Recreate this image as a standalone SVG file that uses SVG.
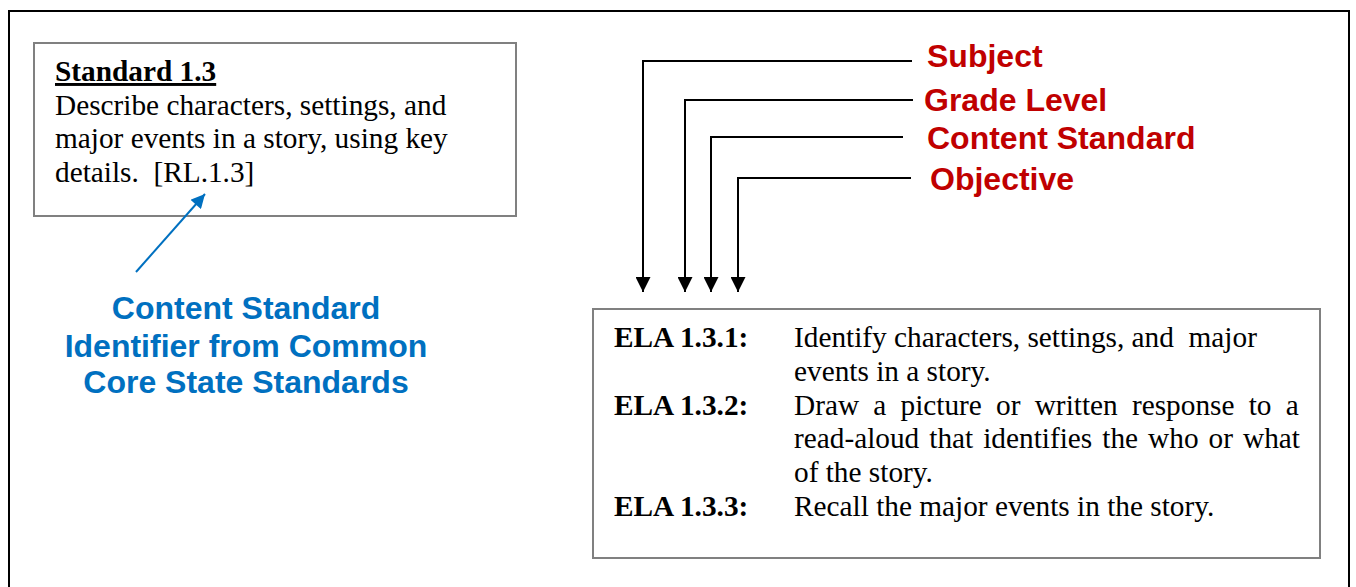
<svg xmlns="http://www.w3.org/2000/svg" width="1356" height="587" viewBox="0 0 1356 587">
<style>
.serif{font-family:"Liberation Serif","Times New Roman",serif;font-size:29.3px;fill:#000;white-space:pre}
.b{font-weight:bold}
.red{font-family:"Liberation Sans",Arial,sans-serif;font-weight:bold;font-size:32px;fill:#C00000}
.blue{font-family:"Liberation Sans",Arial,sans-serif;font-weight:bold;font-size:32px;fill:#0070C0;text-anchor:middle}
.box{fill:#fff;stroke:#808080;stroke-width:2}
.conn{fill:none;stroke:#000;stroke-width:2}
</style>
<defs>
<marker id="ah" viewBox="0 0 10 10" refX="10" refY="5" markerWidth="15" markerHeight="15" markerUnits="userSpaceOnUse" orient="auto">
<path d="M0,0 L10,5 L0,10 z" fill="#000"/>
</marker>
<marker id="ahb" viewBox="0 0 10 10" refX="10" refY="5" markerWidth="15" markerHeight="14" markerUnits="userSpaceOnUse" orient="auto">
<path d="M0,0 L10,5 L0,10 z" fill="#0070C0"/>
</marker>
</defs>
<rect x="0" y="0" width="1356" height="587" fill="#fff"/>
<rect id="frame" x="9" y="11" width="1340" height="600" fill="none" stroke="#000" stroke-width="2"/>

<g id="standard-box">
<rect class="box" x="34" y="43" width="482" height="173"/>
<text class="serif b" x="55" y="81" text-decoration="underline">Standard 1.3</text>
<text class="serif" x="55" y="115">Describe characters, settings, and</text>
<text class="serif" x="55" y="148">major events in a story, using key</text>
<text class="serif" x="55" y="182">details.  [RL.1.3]</text>
</g>

<g id="identifier-label">
<text class="blue" x="246" y="319">Content Standard</text>
<text class="blue" x="246" y="357">Identifier from Common</text>
<text class="blue" x="246" y="393">Core State Standards</text>
</g>

<g id="label-subject"><text class="red" x="927" y="67">Subject</text></g>
<g id="label-grade"><text class="red" x="924" y="111">Grade Level</text></g>
<g id="label-content"><text class="red" x="927" y="149">Content Standard</text></g>
<g id="label-objective"><text class="red" x="930" y="190">Objective</text></g>

<g id="objectives-box">
<rect class="box" x="593" y="309" width="727" height="249"/>
<text class="serif b" x="614" y="347">ELA 1.3.1:</text>
<text class="serif" x="794" y="347">Identify characters, settings, and  major</text>
<text class="serif" x="794" y="381">events in a story.</text>
<text class="serif b" x="614" y="415">ELA 1.3.2:</text>
<text class="serif" x="794" y="415" word-spacing="6.9">Draw a picture or written response to a</text>
<text class="serif" x="794" y="448" word-spacing="2.7">read-aloud that identifies the who or what</text>
<text class="serif" x="794" y="482">of the story.</text>
<text class="serif b" x="614" y="516">ELA 1.3.3:</text>
<text class="serif" x="794" y="516">Recall the major events in the story.</text>
</g>

<g id="connectors">
<polyline class="conn" points="912,61 643,61 643,292" marker-end="url(#ah)"/>
<polyline class="conn" points="913,100 685,100 685,292" marker-end="url(#ah)"/>
<polyline class="conn" points="903,137 711,137 711,292" marker-end="url(#ah)"/>
<polyline class="conn" points="911,178 738,178 738,292" marker-end="url(#ah)"/>
<line x1="136" y1="272" x2="205" y2="194" stroke="#0070C0" stroke-width="2" marker-end="url(#ahb)"/>
</g>
</svg>
